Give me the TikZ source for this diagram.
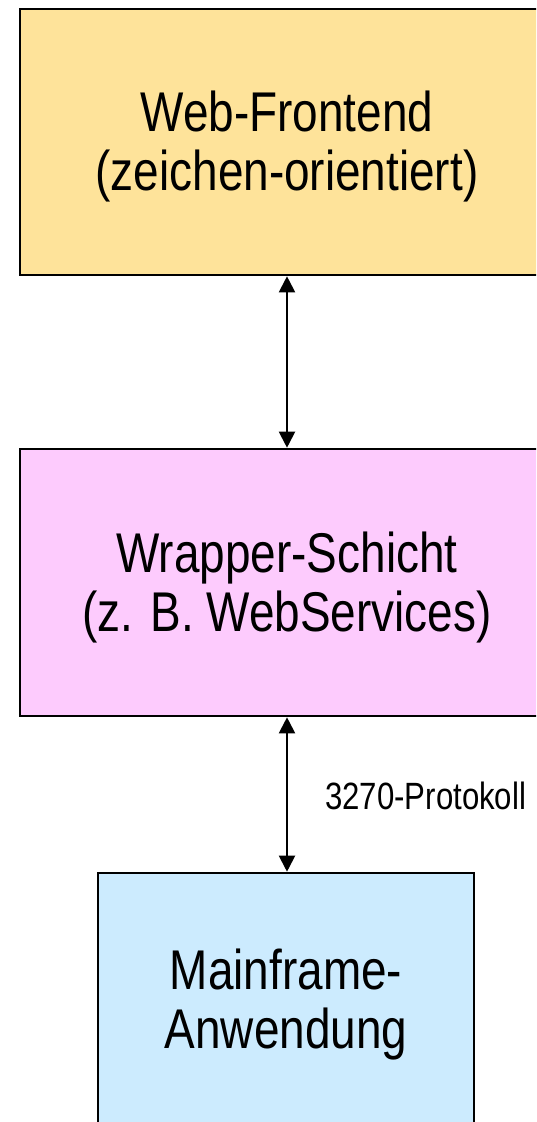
\documentclass[tikz,border=0pt]{standalone}
\usepackage{fontspec}
\setmainfont[FakeStretch=0.82]{Liberation Sans}
\usetikzlibrary{arrows.meta}

\definecolor{frontendfill}{RGB}{254,227,154}
\definecolor{wrapperfill}{RGB}{253,203,253}
\definecolor{mainframefill}{RGB}{204,235,254}

\tikzset{
  layerbox/.style={draw=black, line width=2.6pt, rectangle, inner sep=0pt},
  layertext/.style={align=center, inner sep=0pt, font=\fontsize{56}{59}\selectfont},
  link/.style={line width=2pt, {Triangle[length=16pt,width=16pt]}-{Triangle[length=16pt,width=16pt]}},
  linklabel/.style={anchor=base west, inner sep=0pt, font=\fontsize{38}{42}\selectfont}
}

\begin{document}
\begin{tikzpicture}[x=1pt, y=-1pt]
  \useasboundingbox (0,0) rectangle (536,1122);
  \clip (0,0) rectangle (536,1122);

  % three stacked layers
  \node[layerbox, fill=frontendfill, minimum width=534pt, minimum height=266pt]
    (frontend) at (287,142) {};
  \node[layerbox, fill=wrapperfill, minimum width=534pt, minimum height=267pt]
    (wrapper) at (287,582.5) {};
  \node[layerbox, fill=mainframefill, minimum width=376pt, minimum height=254pt]
    (mainframe) at (286,1000) {};

  % layer captions
  \node[layertext] (frontendtext) at ([yshift=-4.5pt]frontend.center)
    {Web-Frontend\\(zeichen-orientiert)};
  \node[layertext] (wrappertext) at ([yshift=-4.5pt]wrapper.center)
    {Wrapper-Schicht\\(z. B. WebServices)};
  \node[layertext] (mainframetext) at ([yshift=-4.5pt]mainframe.center)
    {Mainframe-\\Anwendung};

  % connections between the layers
  \draw[link] (frontend.south -| 287,0) -- (wrapper.north -| 287,0);
  \draw[link] (wrapper.south -| 287,0) -- (mainframe.north -| 287,0);

  \node[linklabel] (proto) at (325,809) {3270-Protokoll};
\end{tikzpicture}
\end{document}
